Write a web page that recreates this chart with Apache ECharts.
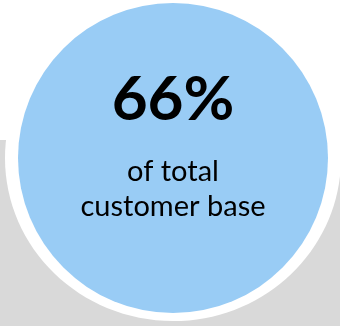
<!DOCTYPE html>
<html>
<head>
<meta charset="utf-8">
<script src="https://cdn.jsdelivr.net/npm/echarts@6/dist/echarts.min.js"></script>
<style>
html,body{margin:0;padding:0;background:#ffffff;}
#chart{width:340px;height:326px;}
</style>
</head>
<body>
<div id="chart"></div>
<script>
// Data
const shareValue = [66];
const shareLabel = ['66%'];
const captionLines = ['of total', 'customer base'];

const chart = echarts.init(document.getElementById('chart'), null, {renderer: 'canvas'});

const option = {
  backgroundColor: '#ffffff',
  animation: false,
  graphic: [
    {
      type: 'rect',
      z: 0,
      silent: true,
      shape: {x: 0, y: 140, width: 340, height: 186},
      style: {fill: '#d9d9d9'}
    },
    {
      type: 'ellipse',
      z: 1,
      silent: true,
      shape: {cx: 173, cy: 158, rx: 168, ry: 163},
      style: {fill: '#ffffff'}
    }
  ],
  series: [
    {
      type: 'pie',
      z: 5,
      silent: true,
      center: [173, 158],
      radius: [0, 155],
      startAngle: 90,
      emphasis: {disabled: true},
      labelLine: {show: false},
      itemStyle: {color: '#99ccf5'},
      label: {
        show: true,
        position: 'center',
        offset: [0, -24],
        formatter: function () {
          return '{pct|' + shareLabel[0] + '}\n' + captionLines.map(function (l) { return '{cap|' + l + '}'; }).join('\n');
        },
        rich: {
          pct: {
            fontFamily: 'Lato',
            fontWeight: 'bold',
            fontSize: 62,
            lineHeight: 110,
            color: '#000000',
            align: 'center'
          },
          cap: {
            fontFamily: 'Lato',
            fontSize: 29,
            lineHeight: 34.5,
            color: '#000000',
            align: 'center'
          }
        }
      },
      data: [
        {value: shareValue[0], name: 'customer base share'}
      ]
    }
  ]
};

chart.setOption(option);
</script>
</body>
</html>
